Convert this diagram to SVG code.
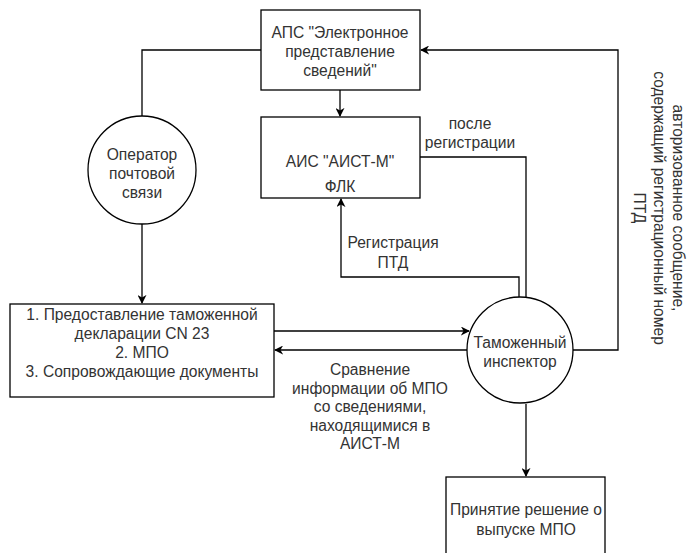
<svg xmlns="http://www.w3.org/2000/svg" width="689" height="553" viewBox="0 0 689 553">
<defs>
<style>
.n{fill:#fff;stroke:#000;stroke-width:1.3}
.e{fill:none;stroke:#000;stroke-width:1.3}
text{font-family:"Liberation Sans",Arial,sans-serif;font-size:15.6px;fill:#333;text-anchor:middle}
</style>
<marker id="a" viewBox="0 0 10 10" refX="9" refY="5" markerWidth="9" markerHeight="9" markerUnits="userSpaceOnUse" orient="auto">
<path d="M0,0 L10,5 L0,10 L3,5 Z" fill="#000"/>
</marker>
</defs>
<rect width="689" height="553" fill="#fff"/>
<g id="connectors">
<path class="e" d="M261,50 H142 V116"/>
<path class="e" d="M142,224 V303" marker-end="url(#a)"/>
<path class="e" d="M340,90 V116" marker-end="url(#a)"/>
<path class="e" d="M420,157 H526 V297"/>
<path class="e" d="M519,297 V277 H341 V199" marker-end="url(#a)"/>
<path class="e" d="M274,331 H469" marker-end="url(#a)"/>
<path class="e" d="M467,350 H275" marker-end="url(#a)"/>
<path class="e" d="M573,350 H618 V50 H421" marker-end="url(#a)"/>
<path class="e" d="M526,404 V476" marker-end="url(#a)"/>
</g>
<g id="aps">
<rect class="n" x="261" y="10" width="159" height="80"/>
<text x="340" y="38">АПС "Электронное</text>
<text x="340" y="57">представление</text>
<text x="340" y="76">сведений"</text>
</g>
<g id="ais">
<rect class="n" x="261" y="117" width="159" height="81"/>
<text x="340" y="167">АИС "АИСТ-М"</text>
<text x="340" y="192">ФЛК</text>
</g>
<g id="operator">
<circle class="n" cx="142" cy="170" r="54"/>
<text x="142" y="160">Оператор</text>
<text x="142" y="179">почтовой</text>
<text x="142" y="198">связи</text>
</g>
<g id="docs">
<rect class="n" x="10" y="304" width="264" height="93"/>
<text x="142" y="320">1. Предоставление таможенной</text>
<text x="142" y="339">декларации CN 23</text>
<text x="142" y="358">2. МПО</text>
<text x="142" y="377">3. Сопровождающие документы</text>
</g>
<g id="inspector">
<circle class="n" cx="520" cy="350" r="53"/>
<text x="520" y="348">Таможенный</text>
<text x="520" y="367">инспектор</text>
</g>
<g id="decision">
<rect class="n" x="446" y="477" width="159" height="90"/>
<text x="526" y="515">Принятие решение о</text>
<text x="526" y="535">выпуске МПО</text>
</g>
<g id="labels">
<text x="470" y="129">после</text>
<text x="470" y="148">регистрации</text>
<text x="393" y="248">Регистрация</text>
<text x="393" y="268">ПТД</text>
<text x="370" y="375">Сравнение</text>
<text x="370" y="394">информации об МПО</text>
<text x="370" y="412">со сведениями,</text>
<text x="370" y="431">находящимися в</text>
<text x="370" y="449">АИСТ-М</text>
<g transform="translate(659,208) rotate(90)">
<text x="0" y="-14">авторизованное сообщение,</text>
<text x="0" y="5">содержащий регистрационный номер</text>
<text x="0" y="25">ПТД</text>
</g>
</g>
</svg>
